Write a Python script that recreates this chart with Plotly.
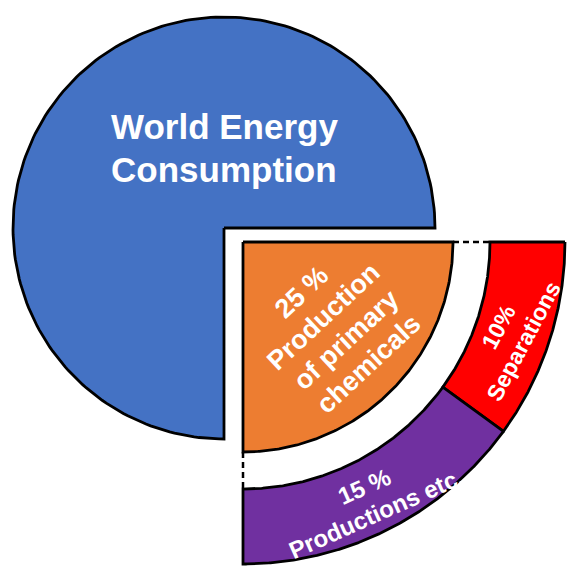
import numpy as np
import plotly.graph_objects as go

# ---- data ----
categories = ["World Energy Consumption", "Production of primary chemicals",
              "Separations", "Productions etc."]
shares = [75, 25, 10, 15]          # percent of a full circle
colors = ["#4472C4", "#ED7D31", "#FF0000", "#7030A0"]
label_lines = [["World Energy", "Consumption"],
               ["25 %", "Production", "of primary", "chemicals"],
               ["10%", "Separations"],
               ["15 %", "Productions etc."]]

# ---- geometry (pixel space) ----
main_center = (224, 228)
main_r = 211
quad_center = (243, 242)
core_r = 210
ring_in = 247
ring_out = 322
DEG = 3.6  # degrees per percent


def sector(c, r0, r1, a0, a1, n=200):
    cx, cy = c
    t = np.radians(np.linspace(a0, a1, n))
    xo, yo = cx + r1 * np.cos(t), cy + r1 * np.sin(t)
    if r0 == 0:
        xs = np.concatenate([[cx], xo, [cx]])
        ys = np.concatenate([[cy], yo, [cy]])
    else:
        xi, yi = cx + r0 * np.cos(t[::-1]), cy + r0 * np.sin(t[::-1])
        xs = np.concatenate([xo, xi, [xo[0]]])
        ys = np.concatenate([yo, yi, [yo[0]]])
    return xs, ys


fig = go.Figure()

# main pie: the remaining 75 %
a0 = 90
a1 = a0 + shares[0] * DEG
xs, ys = sector(main_center, 0, main_r, a0, a1)
fig.add_trace(go.Scatter(x=xs, y=ys, fill="toself", fillcolor=colors[0],
                         mode="lines", line=dict(color="black", width=2.8),
                         hoverinfo="skip"))

# exploded quadrant core
xs, ys = sector(quad_center, 0, core_r, 0, shares[1] * DEG)
fig.add_trace(go.Scatter(x=xs, y=ys, fill="toself", fillcolor=colors[1],
                         mode="lines", line=dict(color="black", width=2.8),
                         hoverinfo="skip"))

# outer ring pieces
start = 0
for v, col in zip(shares[2:], colors[2:]):
    xs, ys = sector(quad_center, ring_in, ring_out, start, start + v * DEG)
    fig.add_trace(go.Scatter(x=xs, y=ys, fill="toself", fillcolor=col,
                             mode="lines", line=dict(color="black", width=2.8),
                             hoverinfo="skip"))
    start += v * DEG

# dashed edges across the white gap
cx, cy = quad_center
for ang in (0, shares[1] * DEG):
    t = np.radians(ang)
    fig.add_trace(go.Scatter(
        x=[cx + core_r * np.cos(t), cx + ring_in * np.cos(t)],
        y=[cy + core_r * np.sin(t), cy + ring_in * np.sin(t)],
        mode="lines", line=dict(color="black", width=2.5, dash="6px,4px"),
        hoverinfo="skip"))

# labels
label_style = [
    dict(center=(224, 147.5), angle=0, size=35, spacing=43),
    dict(center=(335, 328), angle=-43, size=27, spacing=32.5),
    dict(center=(511, 334), angle=-62, size=23, spacing=28),
    dict(center=(370, 500), angle=-24, size=24, spacing=29),
]
for lines, st in zip(label_lines, label_style):
    a = np.radians(st["angle"])
    nx, ny = -np.sin(a), np.cos(a)
    n = len(lines)
    for k, txt in enumerate(lines):
        off = (k - (n - 1) / 2) * st["spacing"]
        fig.add_annotation(
            x=st["center"][0] + off * nx, y=st["center"][1] + off * ny,
            xref="x", yref="y", text=txt, showarrow=False,
            textangle=st["angle"], xanchor="center", yanchor="middle",
            font=dict(family="Liberation Sans, Arial, sans-serif",
                      size=st["size"], color="white", weight="bold"))

fig.update_layout(
    width=567, height=567, margin=dict(l=0, r=0, t=0, b=0),
    showlegend=False, paper_bgcolor="white", plot_bgcolor="white",
    xaxis=dict(range=[0, 567], visible=False, fixedrange=True),
    yaxis=dict(range=[567, 0], visible=False, fixedrange=True),
)

fig.write_html(
    "out.html",
    config={"displayModeBar": False},
    post_script="document.body.style.margin='0';"
                "document.body.style.overflow='hidden';",
)
